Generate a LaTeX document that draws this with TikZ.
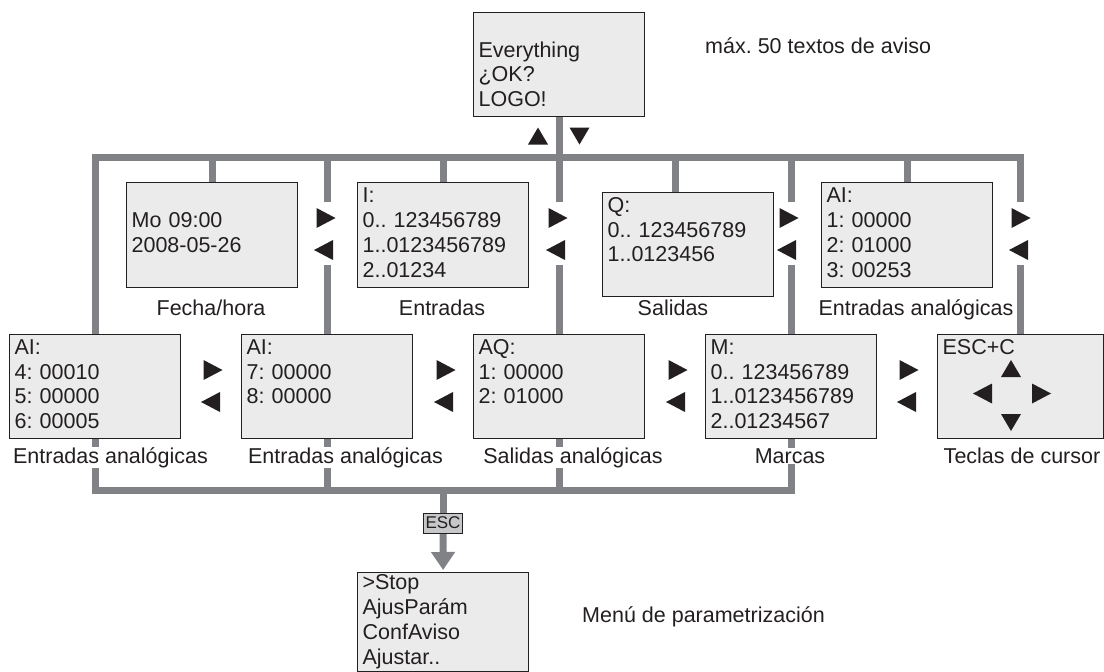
\documentclass[tikz,border=0pt]{standalone}
\usepackage{fontspec}
\setmainfont{Liberation Sans}
\usetikzlibrary{arrows.meta,positioning,backgrounds}
\definecolor{Screen}{HTML}{EBEBEC}
\definecolor{Bar}{HTML}{808285}
\definecolor{Ink}{HTML}{231F20}
\definecolor{KeyGray}{HTML}{C6C7C9}
\newcommand\lcdfont{\fontsize{21.5}{24.7}\selectfont}
\frenchspacing

\tikzset{
  pics/tright/.style={code={\fill[Ink] (-9.5,-10) -- (9.5,0) -- (-9.5,10) -- cycle;}},
  pics/tleft/.style={code={\fill[Ink] (9.5,-10) -- (-9.5,0) -- (9.5,10) -- cycle;}},
  pics/tup/.style={code={\fill[Ink] (-10,8.5) -- (0,-8.5) -- (10,8.5) -- cycle;}},
  pics/tdown/.style={code={\fill[Ink] (-10,-8.5) -- (0,8.5) -- (10,-8.5) -- cycle;}},
}

\begin{document}
\begin{tikzpicture}[x=1pt, y=-1pt,
    lcd/.style={draw=Ink, fill=Screen, line width=1.2pt, anchor=north west, minimum height=104pt,
      text width=161pt, inner xsep=5pt, inner ysep=0pt, align=left, font=\lcdfont, text=Ink},
    bar/.style={draw=Bar, line width=7pt, line join=miter},
    undertext/.style={anchor=base, font=\lcdfont, text=Ink, fill=white, inner xsep=1pt, inner ysep=0.5pt},
    note/.style={anchor=base west, font=\lcdfont, text=Ink, inner sep=0pt}]
    \useasboundingbox (0,0) rectangle (1104,672);
    \coordinate (topbus) at (0,157);
    \coordinate (lowbus) at (0,490);
    \coordinate (gapA) at (0,202);
    \coordinate (gapB) at (0,265);

    % displays
    \node[lcd] (msg) at (473,12) {\strut\\Everything\\¿OK?\\LOGO!\strut};
    \node[lcd, minimum height=105pt] (clock) at (126,182) {\strut Mo 09:00\\2008-05-26\strut};
    \node[lcd, minimum height=105pt] (inputs) at (357,182) {\strut I:\\0.. 123456789\\1..0123456789\\2..01234\strut};
    \node[lcd] (outputs) at (602,192) {\strut Q:\\0.. 123456789\\1..0123456\\\strut};
    \node[lcd, minimum height=105pt] (anaA) at (821,182) {\strut AI:\\1: 00000\\2: 01000\\3: 00253\strut};
    \node[lcd] (anaB) at (9,334) {\strut AI:\\4: 00010\\5: 00000\\6: 00005\strut};
    \node[lcd] (anaC) at (241,334) {\strut AI:\\7: 00000\\8: 00000\\\strut};
    \node[lcd] (anaout) at (473,334) {\strut AQ:\\1: 00000\\2: 01000\\\strut};
    \node[lcd] (flags) at (705,334) {\strut M:\\0.. 123456789\\1..0123456789\\2..01234567\strut};
    \node[lcd, text width=156pt] (cursor) at (937,334) {\strut ESC+C\\\strut\\\strut\\\strut};
    \node[lcd, minimum height=99pt] (menu) at (357,572) {\strut >Stop\\AjusParám\\ConfAviso\\Ajustar..\strut};
    \node[draw=Ink, fill=KeyGray, line width=0.8pt, text=Ink, font=\fontsize{17}{18}\selectfont,
      minimum width=39pt, minimum height=20pt, inner sep=0pt] (esckey) at (443,523) {ESC};

    \begin{scope}[on background layer]
      % upper bus
      \draw[bar] (anaB.north) |- (cursor.north |- topbus) -- (cursor.north |- gapA);
      \draw[bar] (cursor.north |- gapB) -- (cursor.north);
      \draw[bar] (msg.south) -- (msg.south |- gapA);
      \draw[bar] (anaout.north |- gapB) -- (anaout.north);
      \draw[bar] (anaC.north |- topbus) -- (anaC.north |- gapA);
      \draw[bar] (anaC.north |- gapB) -- (anaC.north);
      \draw[bar] (flags.north |- topbus) -- (flags.north |- gapA);
      \draw[bar] (flags.north |- gapB) -- (flags.north);
      \foreach \n in {clock,inputs,anaA}
        \draw[bar] (\n.north |- topbus) -- (\n.north);
      \draw[bar] ([xshift=-12.5pt]outputs.north |- topbus) -- ([xshift=-12.5pt]outputs.north);
      % lower bus
      \draw[bar] (anaB.south) |- (flags.south |- lowbus) -- (flags.south);
      \draw[bar] (anaC.south) -- (anaC.south |- lowbus);
      \draw[bar] (anaout.south) -- (anaout.south |- lowbus);
      \draw[bar] (esckey.north |- lowbus) -- (esckey.north);
      \draw[bar, -{Triangle[length=18pt, width=23pt]}] (esckey.south) -- ([yshift=2pt]menu.north);
    \end{scope}

    % captions
    \node[undertext] (lclock) at (211,315) {Fecha/hora};
    \node[undertext] (linputs) at (442,315) {Entradas};
    \node[undertext] (loutputs) at (673,315) {Salidas};
    \node[undertext] (lanaA) at (916,315) {Entradas analógicas};
    \node[undertext] (lanaB) at (110.5,463) {Entradas analógicas};
    \node[undertext] (lanaC) at (345.5,463) {Entradas analógicas};
    \node[undertext] (lanaout) at (573,463) {Salidas analógicas};
    \node[undertext] (lflags) at (790,463) {Marcas};
    \node[undertext] (lcursor) at (1022,463) {Teclas de cursor};
    \node[note] (maxnote) at (705,53) {máx. 50 textos de aviso};
    \node[note] (menunote) at (582,622) {Menú de parametrización};

    % keys
    \pic at (538,136) {tup};
    \pic at (579.5,136) {tdown};
    \foreach \x in {327,559,790,1022} {
      \pic at (\x-1,218) {tright};
      \pic at (\x-3.5,250) {tleft};
    }
    \foreach \x in {212,445,677,908} {
      \pic at (\x+1,370) {tright};
      \pic at (\x-1.5,402) {tleft};
    }
    \pic at (1011,368.5) {tup};
    \pic at (982.5,393.5) {tleft};
    \pic at (1041.5,393.5) {tright};
    \pic at (1011,422.5) {tdown};
  \end{tikzpicture}
\end{document}
